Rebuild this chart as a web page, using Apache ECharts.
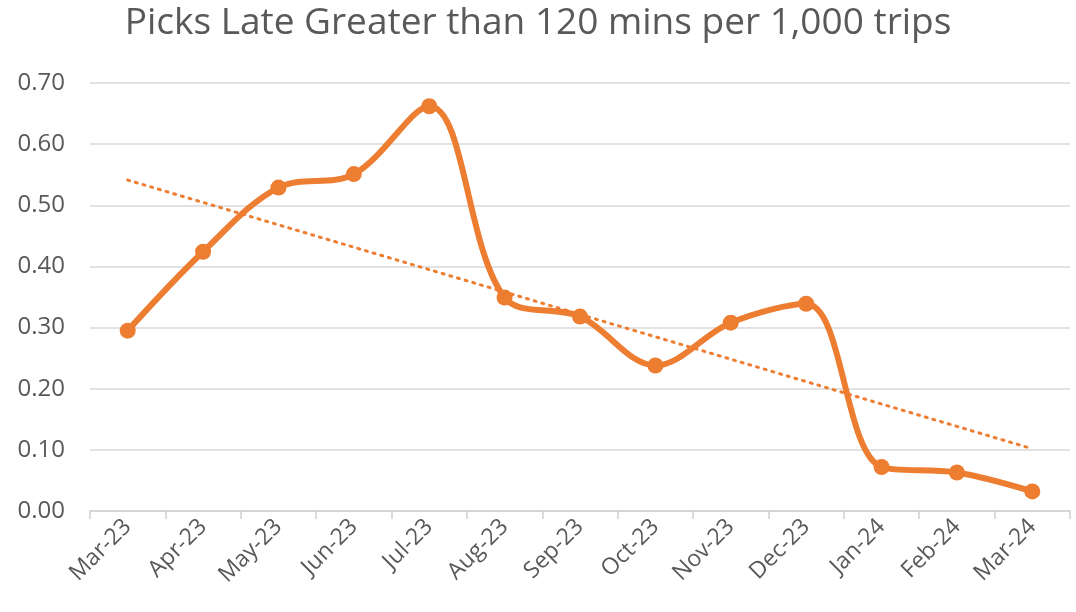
<!DOCTYPE html>
<html>
<head>
<meta charset="utf-8">
<script src="https://cdn.jsdelivr.net/npm/echarts@6/dist/echarts.min.js"></script>
<style>
html, body { margin: 0; padding: 0; background: #fff; }
#main { width: 1076px; height: 612px; }
</style>
</head>
<body>
<div id="main"></div>
<script>
var months = ['Mar-23', 'Apr-23', 'May-23', 'Jun-23', 'Jul-23', 'Aug-23', 'Sep-23',
              'Oct-23', 'Nov-23', 'Dec-23', 'Jan-24', 'Feb-24', 'Mar-24'];
var lateValues = [0.295, 0.424, 0.529, 0.551, 0.662, 0.349, 0.318,
                  0.238, 0.308, 0.339, 0.072, 0.063, 0.032];

// linear trend (least squares) like the Excel trendline
function linearTrend(vals) {
    var n = vals.length, sx = 0, sy = 0, sxy = 0, sxx = 0;
    vals.forEach(function (v, i) {
        sx += i; sy += v; sxy += i * v; sxx += i * i;
    });
    var slope = (n * sxy - sx * sy) / (n * sxx - sx * sx);
    var icpt = (sy - slope * sx) / n;
    return vals.map(function (v, i) { return +(icpt + slope * i).toFixed(4); });
}
var trendValues = linearTrend(lateValues);

var myChart = echarts.init(document.getElementById('main'));
var orange = '#ED7D31';
var textGrey = '#595959';

var option = {
    animation: false,
    title: {
        text: 'Picks Late Greater than 120 mins per 1,000 trips',
        left: 'center',
        top: 0,
        textStyle: { fontFamily: 'Open Sans', fontSize: 37, fontWeight: 'normal', color: textGrey }
    },
    grid: { left: 90, right: 6, top: 83, bottom: 101, containLabel: false },
    xAxis: {
        type: 'category',
        data: months,
        boundaryGap: true,
        axisLine: { lineStyle: { color: '#d0d0d0', width: 1.5 } },
        axisTick: { show: true, length: 8, lineStyle: { color: '#d0d0d0', width: 1.5 } },
        axisLabel: { rotate: 45, fontFamily: 'Open Sans', fontSize: 23, color: textGrey, margin: 12 }
    },
    yAxis: {
        type: 'value',
        min: 0,
        max: 0.7,
        interval: 0.1,
        axisLine: { show: false },
        axisTick: { show: false },
        splitLine: { lineStyle: { color: '#d9d9d9', width: 1.5 } },
        axisLabel: {
            fontFamily: 'Open Sans', fontSize: 24, color: textGrey, margin: 25,
            formatter: function (v) { return v.toFixed(2); }
        }
    },
    series: [
        {
            name: 'Trend',
            type: 'line',
            data: trendValues,
            symbol: 'none',
            z: 1,
            lineStyle: { color: orange, width: 3, type: [2, 6], cap: 'round' }
        },
        {
            name: 'Picks Late',
            type: 'line',
            data: lateValues,
            smooth: 0.35,
            symbol: 'circle',
            symbolSize: 16,
            z: 3,
            itemStyle: { color: orange },
            lineStyle: { color: orange, width: 6 }
        }
    ]
};

myChart.setOption(option);
</script>
</body>
</html>
